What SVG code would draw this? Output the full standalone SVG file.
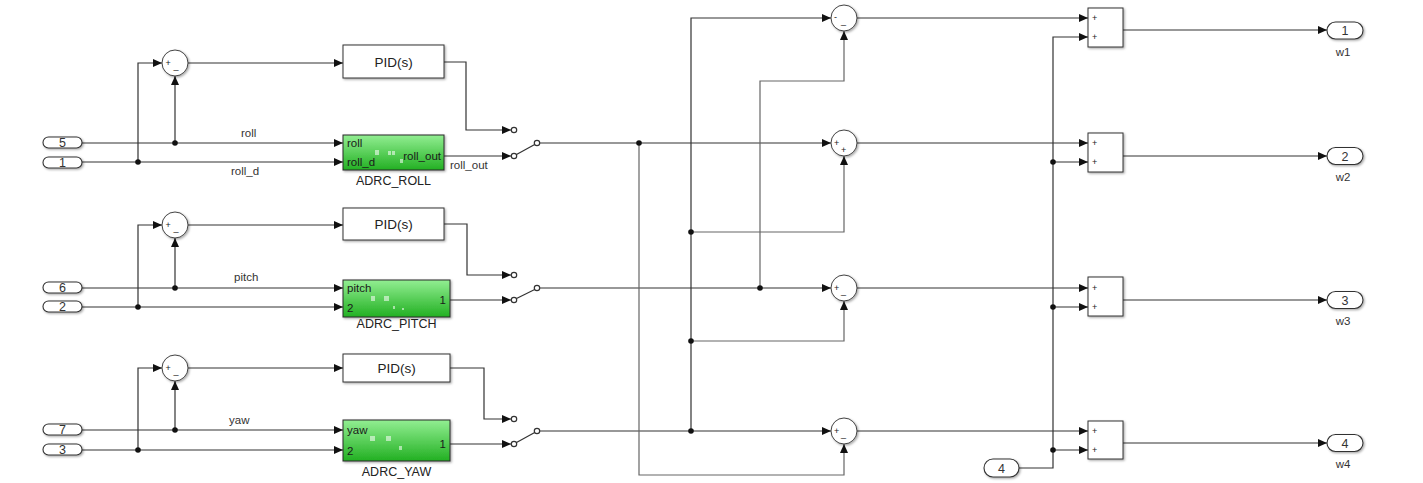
<svg xmlns="http://www.w3.org/2000/svg" width="1423" height="483" viewBox="0 0 1423 483">
<style>
.w{stroke:#333;stroke-width:1.2;fill:none}
.wg{stroke:#666;stroke-width:1.2;fill:none}
.blk{fill:#fff;stroke:#333;stroke-width:1;filter:url(#sh)}
.grn{fill:url(#g);stroke:#2a2a2a;stroke-width:1;filter:url(#sh)}
.port{fill:#fff;stroke:#333;stroke-width:1.1;filter:url(#sh)}
.t{font-family:"Liberation Sans",Arial,sans-serif;font-size:11.5px;fill:#333}
.tnum{font-family:"Liberation Sans",Arial,sans-serif;font-size:12.5px;fill:#333;text-anchor:middle}
.tp{font-family:"Liberation Sans",Arial,sans-serif;font-size:11.5px;fill:#1a1a1a}
.tb{font-family:"Liberation Sans",Arial,sans-serif;font-size:13.5px;fill:#222}
.tn{font-family:"Liberation Sans",Arial,sans-serif;font-size:12.5px;fill:#222;text-anchor:middle}
.ts{font-family:"Liberation Sans",Arial,sans-serif;font-size:9px;fill:#222}
.dot{fill:#111}
.sc{fill:#fff;stroke:#444;stroke-width:1}
.sq{fill:#fff;opacity:0.55}
</style>
<defs>
<linearGradient id="g" x1="0" y1="0" x2="0" y2="1">
<stop offset="0" stop-color="#92ee92"/>
<stop offset="1" stop-color="#22b022"/>
</linearGradient>
<filter id="sh" x="-10%" y="-10%" width="130%" height="140%">
<feDropShadow dx="1.2" dy="1.2" stdDeviation="0.9" flood-color="#000" flood-opacity="0.35"/>
</filter>
<marker id="a" markerUnits="userSpaceOnUse" markerWidth="9" markerHeight="8" refX="9" refY="4" orient="auto">
<path d="M0,0 L9,4 L0,8 z" fill="#111"/>
</marker>
</defs>

<g id="connectors">
<path class="w" d="M82,143 H343" marker-end="url(#a)"/>
<path class="w" d="M82,162 H343" marker-end="url(#a)"/>
<path class="w" d="M175,143 V76" marker-end="url(#a)"/>
<path class="w" d="M138,162 V63 H162" marker-end="url(#a)"/>
<path class="w" d="M188,63 H343" marker-end="url(#a)"/>
<path class="w" d="M444,62 H466 V130 H511" marker-end="url(#a)"/>
<path class="w" d="M444,156 H511" marker-end="url(#a)"/>
<path class="w" d="M82,288 H343" marker-end="url(#a)"/>
<path class="w" d="M82,307 H343" marker-end="url(#a)"/>
<path class="w" d="M175,288 V238" marker-end="url(#a)"/>
<path class="w" d="M138,307 V225 H162" marker-end="url(#a)"/>
<path class="w" d="M188,225 H343" marker-end="url(#a)"/>
<path class="w" d="M444,224 H467 V275 H511" marker-end="url(#a)"/>
<path class="w" d="M450,300 H511" marker-end="url(#a)"/>
<path class="w" d="M82,430 H343" marker-end="url(#a)"/>
<path class="w" d="M82,450 H343" marker-end="url(#a)"/>
<path class="w" d="M175,430 V381" marker-end="url(#a)"/>
<path class="w" d="M138,450 V368 H162" marker-end="url(#a)"/>
<path class="w" d="M188,368 H343" marker-end="url(#a)"/>
<path class="w" d="M450,368 H484 V419 H511" marker-end="url(#a)"/>
<path class="w" d="M450,444 H511" marker-end="url(#a)"/>
<g class="w" stroke-width="1">
<circle cx="514" cy="130" r="2.7" fill="#fff"/>
<circle cx="514" cy="156" r="2.7" fill="#fff"/>
<line x1="516.5" y1="154.5" x2="534.7" y2="144.5"/>
<circle cx="537" cy="143" r="2.7" fill="#fff"/>
<circle cx="514" cy="275" r="2.7" fill="#fff"/>
<circle cx="514" cy="300" r="2.7" fill="#fff"/>
<line x1="516.5" y1="298.5" x2="534.7" y2="289.5"/>
<circle cx="537" cy="288" r="2.7" fill="#fff"/>
<circle cx="514" cy="419" r="2.7" fill="#fff"/>
<circle cx="514" cy="444" r="2.7" fill="#fff"/>
<line x1="516.5" y1="442.5" x2="534.7" y2="432.5"/>
<circle cx="537" cy="431" r="2.7" fill="#fff"/>
</g>
<path class="w" d="M540,143 H831" marker-end="url(#a)"/>
<path class="w" d="M540,288 H831" marker-end="url(#a)"/>
<path class="w" d="M540,431 H831" marker-end="url(#a)"/>
<path class="wg" d="M639,143 V475 H844 V444" marker-end="url(#a)"/>
<path class="w" d="M691,431 V18 H831" marker-end="url(#a)"/>
<path class="wg" d="M691,232 H844 V156" marker-end="url(#a)"/>
<path class="wg" d="M691,341 H844 V301" marker-end="url(#a)"/>
<path class="wg" d="M760,288 V81 H844 V31" marker-end="url(#a)"/>
<path class="w" d="M857,18 H1088" marker-end="url(#a)"/>
<path class="w" d="M857,143 H1088" marker-end="url(#a)"/>
<path class="w" d="M857,288 H1088" marker-end="url(#a)"/>
<path class="w" d="M857,431 H1088" marker-end="url(#a)"/>
<path class="w" d="M1019,468 H1053 V37 H1088" marker-end="url(#a)"/>
<path class="w" d="M1053,162 H1088" marker-end="url(#a)"/>
<path class="w" d="M1053,307 H1088" marker-end="url(#a)"/>
<path class="w" d="M1053,450 H1088" marker-end="url(#a)"/>
<path class="w" d="M1123,30 H1327" marker-end="url(#a)"/>
<path class="w" d="M1123,156 H1327" marker-end="url(#a)"/>
<path class="w" d="M1123,300 H1327" marker-end="url(#a)"/>
<path class="w" d="M1123,443 H1327" marker-end="url(#a)"/>
<circle class="dot" cx="175" cy="143" r="2.8"/>
<circle class="dot" cx="138" cy="162" r="2.8"/>
<circle class="dot" cx="175" cy="288" r="2.8"/>
<circle class="dot" cx="138" cy="307" r="2.8"/>
<circle class="dot" cx="175" cy="430" r="2.8"/>
<circle class="dot" cx="138" cy="450" r="2.8"/>
<circle class="dot" cx="639" cy="143" r="2.8"/>
<circle class="dot" cx="691" cy="232" r="2.8"/>
<circle class="dot" cx="691" cy="341" r="2.8"/>
<circle class="dot" cx="691" cy="431" r="2.8"/>
<circle class="dot" cx="760" cy="288" r="2.8"/>
<circle class="dot" cx="1053" cy="162" r="2.8"/>
<circle class="dot" cx="1053" cy="307" r="2.8"/>
<circle class="dot" cx="1053" cy="450" r="2.8"/>
<text class="t" x="241" y="137">roll</text>
<text class="t" x="231" y="175">roll_d</text>
<text class="t" x="450" y="169">roll_out</text>
<text class="t" x="234" y="281">pitch</text>
<text class="t" x="229" y="424">yaw</text>
</g>

<g id="in5"><rect class="port" x="43" y="137" width="39" height="11" rx="5.5"/><text class="tnum" x="62.5" y="147">5</text></g>
<g id="in1"><rect class="port" x="43" y="157" width="39" height="11" rx="5.5"/><text class="tnum" x="62.5" y="167">1</text></g>
<g id="in6"><rect class="port" x="43" y="282" width="39" height="11" rx="5.5"/><text class="tnum" x="62.5" y="292">6</text></g>
<g id="in2"><rect class="port" x="43" y="301" width="39" height="11" rx="5.5"/><text class="tnum" x="62.5" y="311">2</text></g>
<g id="in7"><rect class="port" x="43" y="424" width="39" height="11" rx="5.5"/><text class="tnum" x="62.5" y="434">7</text></g>
<g id="in3"><rect class="port" x="43" y="444" width="39" height="11" rx="5.5"/><text class="tnum" x="62.5" y="454">3</text></g>
<g id="in4"><rect class="port" x="984" y="459" width="35" height="18" rx="9"/><text class="tnum" x="1001.5" y="472.5">4</text></g>

<g id="sum_roll"><circle class="sc" cx="175" cy="63" r="13" filter="url(#sh)"/><text class="ts" x="165.5" y="66">+</text><text class="ts" x="173.5" y="69">_</text></g>
<g id="sum_pitch"><circle class="sc" cx="175" cy="225" r="13" filter="url(#sh)"/><text class="ts" x="165.5" y="228">+</text><text class="ts" x="173.5" y="231">_</text></g>
<g id="sum_yaw"><circle class="sc" cx="175" cy="368" r="13" filter="url(#sh)"/><text class="ts" x="165.5" y="371">+</text><text class="ts" x="173.5" y="374">_</text></g>

<g id="pid_roll"><rect class="blk" x="343" y="45" width="101" height="33"/><text class="tb" x="393.5" y="66.5" text-anchor="middle">PID(s)</text></g>
<g id="pid_pitch"><rect class="blk" x="343" y="208" width="101" height="32"/><text class="tb" x="393.5" y="229" text-anchor="middle">PID(s)</text></g>
<g id="pid_yaw"><rect class="blk" x="343" y="354" width="107" height="28"/><text class="tb" x="396.5" y="373" text-anchor="middle">PID(s)</text></g>

<g id="adrc_roll">
<rect class="grn" x="343" y="135" width="101" height="35"/>
<rect class="sq" x="375" y="150" width="4" height="5"/><rect class="sq" x="388" y="151" width="3" height="4"/><rect class="sq" x="392" y="151" width="3" height="4"/><rect class="sq" x="400" y="159" width="3" height="4"/>
<text class="tp" x="347" y="147">roll</text>
<text class="tp" x="347" y="166">roll_d</text>
<text class="tp" x="441" y="160" text-anchor="end">roll_out</text>
<text class="tn" x="393.5" y="185">ADRC_ROLL</text>
</g>
<g id="adrc_pitch">
<rect class="grn" x="343" y="280" width="107" height="37"/>
<rect class="sq" x="371" y="296" width="4" height="5"/><rect class="sq" x="384" y="296" width="5" height="5"/><rect class="sq" x="393" y="306" width="2" height="3"/><rect class="sq" x="402" y="308" width="2" height="2"/>
<text class="tp" x="347" y="292">pitch</text>
<text class="tp" x="347" y="312">2</text>
<text class="tp" x="446" y="304" text-anchor="end">1</text>
<text class="tn" x="396.5" y="328">ADRC_PITCH</text>
</g>
<g id="adrc_yaw">
<rect class="grn" x="343" y="420" width="107" height="41"/>
<rect class="sq" x="370" y="436" width="5" height="5"/><rect class="sq" x="386" y="436" width="5" height="5"/><rect class="sq" x="399" y="446" width="3" height="4"/>
<text class="tp" x="347" y="434">yaw</text>
<text class="tp" x="347" y="455">2</text>
<text class="tp" x="446" y="448" text-anchor="end">1</text>
<text class="tn" x="396.5" y="476">ADRC_YAW</text>
</g>

<g id="sum_m1"><circle class="sc" cx="844" cy="18" r="13" filter="url(#sh)"/><text class="ts" x="834" y="20">-</text><text class="ts" x="841" y="24">_</text></g>
<g id="sum_m2"><circle class="sc" cx="844" cy="143" r="13" filter="url(#sh)"/><text class="ts" x="834" y="146">+</text><text class="ts" x="841" y="153">+</text></g>
<g id="sum_m3"><circle class="sc" cx="844" cy="288" r="13" filter="url(#sh)"/><text class="ts" x="834" y="291">+</text><text class="ts" x="841" y="294">_</text></g>
<g id="sum_m4"><circle class="sc" cx="844" cy="431" r="13" filter="url(#sh)"/><text class="ts" x="834" y="434">+</text><text class="ts" x="841" y="437">_</text></g>

<g id="add1"><rect class="blk" x="1088" y="8" width="35" height="39"/><text class="ts" x="1092" y="21">+</text><text class="ts" x="1092" y="40">+</text></g>
<g id="add2"><rect class="blk" x="1088" y="133" width="35" height="39"/><text class="ts" x="1092" y="146">+</text><text class="ts" x="1092" y="165">+</text></g>
<g id="add3"><rect class="blk" x="1088" y="277" width="35" height="39"/><text class="ts" x="1092" y="291">+</text><text class="ts" x="1092" y="310">+</text></g>
<g id="add4"><rect class="blk" x="1088" y="421" width="35" height="38"/><text class="ts" x="1092" y="434">+</text><text class="ts" x="1092" y="453">+</text></g>

<g id="out1"><rect class="port" x="1327" y="22" width="36" height="17" rx="8.5"/><text class="tnum" x="1345" y="35">1</text><text class="t" x="1343" y="55.5" text-anchor="middle">w1</text></g>
<g id="out2"><rect class="port" x="1327" y="147.5" width="36" height="17" rx="8.5"/><text class="tnum" x="1345" y="160.5">2</text><text class="t" x="1343" y="180.5" text-anchor="middle">w2</text></g>
<g id="out3"><rect class="port" x="1327" y="291.5" width="36" height="17" rx="8.5"/><text class="tnum" x="1345" y="304.5">3</text><text class="t" x="1343" y="324.5" text-anchor="middle">w3</text></g>
<g id="out4"><rect class="port" x="1327" y="434.5" width="36" height="17" rx="8.5"/><text class="tnum" x="1345" y="447.5">4</text><text class="t" x="1343" y="467.5" text-anchor="middle">w4</text></g>
</svg>
